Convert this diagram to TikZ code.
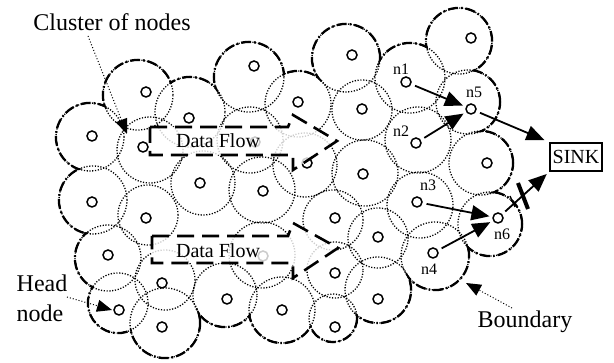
\documentclass[tikz,border=0pt]{standalone}
\usepackage{fontspec}
\setmainfont{Liberation Serif}
\usetikzlibrary{arrows.meta}
\begin{document}
\begin{tikzpicture}[x=1pt,y=-1pt,
  bound/.style={line width=2.5pt, dash pattern=on 10pt off 3pt on 1.6pt off 3pt},
  cell/.style={line width=1.3pt, dash pattern=on 1.2pt off 1.6pt, draw=black},
  sensor/.style={circle, draw, fill=white, line width=1.5pt, inner sep=0pt, minimum size=10pt},
  flowarrow/.style={line width=2.6pt, dash pattern=on 17pt off 8pt, fill=white, fill opacity=0.8},
  msg/.style={line width=1.8pt, -{Triangle[length=18pt,width=15pt]}},
  pointer/.style={line width=1pt, dash pattern=on 1pt off 2pt, -{Triangle[length=15pt,width=12pt]}},
  biglbl/.style={font=\fontsize{24}{28}\selectfont, inner sep=0pt, anchor=base},
  flowlbl/.style={font=\fontsize{20}{24}\selectfont, inner sep=0pt, anchor=base},
  nlbl/.style={font=\fontsize{16}{19}\selectfont, inner sep=0pt, anchor=base}
]
\useasboundingbox (0,0) rectangle (614,363);
\def\cells{c1/146/92/138/95/35, c2/92/136/90/137/34, c3/189/118/190/112/35,
 c4/254/66/249/77/35, c5/298/102/298/104/33, c6/352/55/346/58/34,
 c7/362/109/362/110/30, n1/406/82/410/78/35, c9/471/38/459/41/33,
 n5/471/109/468/102/32, c11/143/147/150/150/33, c12/255/142/250/140/33,
 c13/307/163/305/165/32, c14/363/174/365/173/33, n2/416/143/418/140/33,
 c16/487/163/481/163/32, c17/92/202/93/200/34, c18/146/218/148/215/30,
 c19/200/183/203/183/32, c20/263/191/262/190/33, c21/335/218/333/220/30,
 n3/417/202/420/205/33, n6/498/218/490/224/32, c24/108/255/108/258/33,
 c25/263/256/262/255/33, c26/378/237/378/238/30, n4/433/253/435/256/34,
 c28/162/283/165/280/30, c29/227/299/225/295/32, c30/335/273/335/270/28,
 head/119/310/118/303/30, c32/282/310/282/310/33, c33/378/299/378/290/33,
 c34/162/327/165/323/35, c35/335/327/333/318/24}
% boundary (outer envelope of the cells)
\foreach \nm/\nx/\ny/\cx/\cy/\r in \cells {
  \draw[bound] (\cx,\cy) circle[radius=\r*1pt];
  \coordinate (k\nm) at (\cx,\cy);
}
\foreach \nm/\nx/\ny/\cx/\cy/\r in \cells {
  \fill[white] (\cx,\cy) circle[radius=\r*1pt-1.3pt];
}
\fill[white] (kc2) -- (kc1) -- (kc3) -- (kc4) -- (kc5) -- (kc6) -- (kn1) -- (kc9)
  -- (kn5) -- (kc16) -- (kn6) -- (kn4) -- (kc33) -- (kc35) -- (kc32) -- (kc29)
  -- (kc34) -- (khead) -- (kc24) -- (kc17) -- cycle;
% cells and sensor nodes
\foreach \nm/\nx/\ny/\cx/\cy/\r in \cells {
  \draw[cell] (\cx,\cy) circle[radius=\r*1pt];
}
\foreach \nm/\nx/\ny/\cx/\cy/\r in \cells {
  \node[sensor] (\nm) at (\nx,\ny) {};
}
% data flow arrows
\draw[flowarrow] (150,127) -- (288,127) -- (293,115) -- (337,141) -- (293,170)
  -- (293,155) -- (150,155) -- cycle;
\draw[flowarrow] (152,236) -- (288,236) -- (293,223) -- (338,248) -- (293,278)
  -- (293,263) -- (152,263) -- cycle;
\node[flowlbl] (df1) at (218,148) {Data Flow};
\node[flowlbl] (df2) at (218,258) {Data Flow};
% labels of nodes
\node[nlbl] (l1) at (401,75) {n1};
\node[nlbl] (l5) at (474,98) {n5};
\node[nlbl] (l2) at (401,137) {n2};
\node[nlbl] (l3) at (428,191) {n3};
\node[nlbl] (l6) at (502,240) {n6};
\node[nlbl] (l4) at (429,275) {n4};
% sink
\node[draw, line width=2pt, minimum width=52pt, minimum height=28pt, inner sep=0pt,
  font=\fontsize{20}{24}\selectfont] (sink) at (576,157) {SINK};
% messages
\draw[msg, shorten >=3pt, shorten <=4pt] (n1) -- (n5);
\draw[msg, shorten >=3pt, shorten <=4pt] (n2) -- (n5);
\draw[msg, shorten >=5pt, shorten <=4pt] (n5) -- (sink.north west);
\draw[msg, shorten >=3pt, shorten <=4pt] (n3) -- (n6);
\draw[msg, shorten >=3pt, shorten <=4pt] (n4) -- (n6);
\draw[msg, shorten >=3pt, shorten <=4pt] (n6) -- (sink.south west);
\draw[line width=4pt] (518,183) -- (528,209);
\draw[line width=1.3pt] (510,196) -- (515,207);
% annotations
\node[biglbl] (cl) at (112,31) {Cluster of nodes};
\node[biglbl] (hl1) at (42,292) {Head};
\node[biglbl] (hl2) at (40,322) {node};
\node[biglbl] (bl) at (525,328) {Boundary};
\coordinate (clA) at (88,36);
\coordinate (clB) at (127,134);
\coordinate (hdA) at (67,297);
\coordinate (hdB) at (112,310);
\coordinate (bdA) at (512,308);
\coordinate (bdB) at (466,283);
\draw[pointer] (clA) -- (clB);
\draw[pointer] (hdA) -- (hdB);
\draw[pointer] (bdA) -- (bdB);
\end{tikzpicture}
\end{document}
